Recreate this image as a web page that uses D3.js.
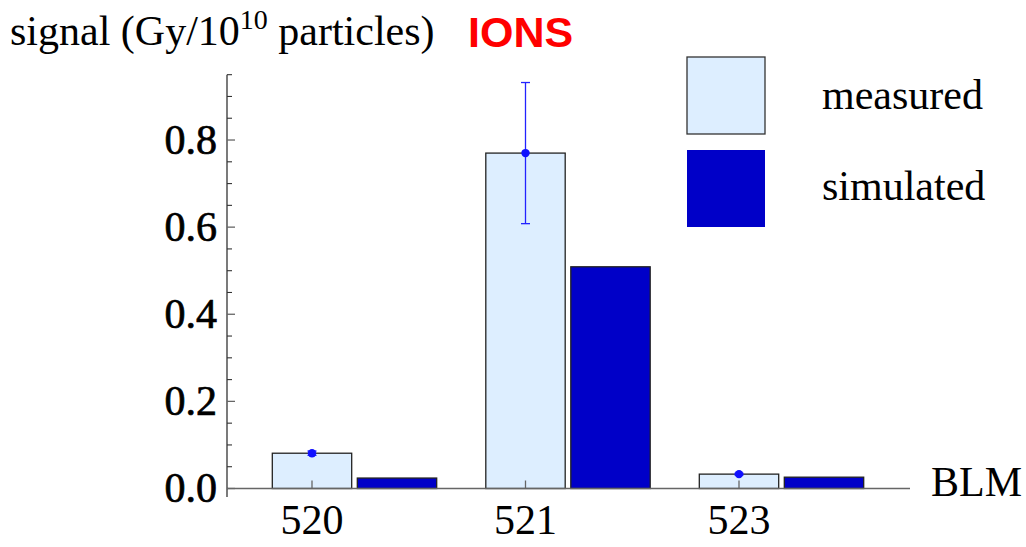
<!DOCTYPE html>
<html>
<head>
<meta charset="utf-8">
<script src="https://cdn.jsdelivr.net/npm/d3@7"></script>
<style>
  html, body { margin: 0; padding: 0; background: #fff; }
  svg { display: block; }
</style>
</head>
<body>
<svg id="chart" width="1026" height="547"></svg>
<script>
// BLM detector labels and signals (Gy per 1e10 particles)
const categories = ["520", "521", "523"];
const seriesNames = ["measured", "simulated"];
const measured = [0.081, 0.770, 0.033];
const measuredError = [0.005, 0.162, 0.002];
const simulated = [0.024, 0.509, 0.026];
const yMajorTicks = [0.0, 0.2, 0.4, 0.6, 0.8];
const yMinorTicks = [0.05, 0.1, 0.15, 0.25, 0.3, 0.35, 0.45, 0.5, 0.55, 0.65, 0.7, 0.75, 0.85, 0.9, 0.95];

const colors = { measured: "#ddeeff", simulated: "#0000c8" };

const svg = d3.select("#chart");
const serif = "'Liberation Serif', 'Times New Roman', serif";
const fs = 42;

const axisX = 227;
const zeroY = 488.5;
const y = d3.scaleLinear().domain([0, 0.95]).range([zeroY, zeroY - 0.95 * 435.6]);

const x = d3.scaleBand().domain(categories)
  .range([247.75, 888.25]).paddingInner(0.23).paddingOuter(0.115);
const xs = d3.scaleBand().domain(seriesNames)
  .range([0, x.bandwidth()]).paddingInner(0.066);

const rows = categories.map((c, i) => ({
  cat: c, measured: measured[i], err: measuredError[i], simulated: simulated[i]
}));

// Bars
const g = svg.append("g");
rows.forEach(r => {
  seriesNames.forEach(s => {
    g.append("rect")
      .attr("x", x(r.cat) + xs(s))
      .attr("y", y(r[s]))
      .attr("width", xs.bandwidth())
      .attr("height", zeroY - y(r[s]))
      .attr("fill", colors[s])
      .attr("stroke", "#222")
      .attr("stroke-width", 1.3);
  });
});

// Horizontal axis line
svg.append("line")
  .attr("x1", axisX).attr("x2", 910)
  .attr("y1", zeroY).attr("y2", zeroY)
  .attr("stroke", "#666").attr("stroke-width", 1.3);

// Category ticks at measured bar centers
rows.forEach(r => {
  const cx = x(r.cat) + xs("measured") + xs.bandwidth() / 2;
  svg.append("line")
    .attr("x1", cx).attr("x2", cx)
    .attr("y1", zeroY).attr("y2", zeroY - 8)
    .attr("stroke", "#666").attr("stroke-width", 1.3);
  svg.append("text")
    .attr("x", cx).attr("y", 534)
    .attr("text-anchor", "middle")
    .attr("font-family", serif).attr("font-size", fs)
    .text(r.cat);
});

// Error bars on measured values
rows.forEach(r => {
  const cx = x(r.cat) + xs("measured") + xs.bandwidth() / 2;
  const eb = svg.append("g").attr("stroke", "#2222ff").attr("stroke-width", 1.3);
  eb.append("line").attr("x1", cx).attr("x2", cx)
    .attr("y1", y(r.measured + r.err)).attr("y2", y(r.measured - r.err));
  [r.measured + r.err, r.measured - r.err].forEach(v => {
    eb.append("line").attr("x1", cx - 4.5).attr("x2", cx + 4.5)
      .attr("y1", y(v)).attr("y2", y(v));
  });
  svg.append("circle").attr("cx", cx).attr("cy", y(r.measured))
    .attr("r", 4.2).attr("fill", "#1010ff");
});

// Vertical axis
svg.append("line")
  .attr("x1", axisX).attr("x2", axisX)
  .attr("y1", y(0.95)).attr("y2", 497)
  .attr("stroke", "#333").attr("stroke-width", 1.3);

yMinorTicks.forEach(v => {
  svg.append("line")
    .attr("x1", axisX).attr("x2", axisX + 5)
    .attr("y1", y(v)).attr("y2", y(v))
    .attr("stroke", "#333").attr("stroke-width", 1.1);
});
yMajorTicks.forEach(v => {
  svg.append("line")
    .attr("x1", axisX).attr("x2", axisX + 8)
    .attr("y1", y(v)).attr("y2", y(v))
    .attr("stroke", "#666").attr("stroke-width", 1.3);
  svg.append("text")
    .attr("x", 217).attr("y", y(v) + 13.5)
    .attr("text-anchor", "end")
    .attr("font-family", serif).attr("font-size", fs)
    .attr("stroke", "#000").attr("stroke-width", 0.7)
    .text(d3.format(".1f")(v));
});

// Axis titles
const title = svg.append("text")
  .attr("x", 10).attr("y", 45)
  .attr("font-family", serif).attr("font-size", fs);
title.append("tspan").text("signal (Gy/10");
title.append("tspan").attr("font-size", 28).attr("dy", -16).text("10");
title.append("tspan").attr("dy", 16).text(" particles)");

svg.append("text")
  .attr("x", 468).attr("y", 47)
  .attr("font-family", "'Liberation Sans', Arial, sans-serif")
  .attr("font-weight", "bold").attr("font-size", 43)
  .attr("fill", "#ff0000")
  .text("IONS");

svg.append("text")
  .attr("x", 931).attr("y", 496)
  .attr("font-family", serif).attr("font-size", fs)
  .text("BLM");

// Legend
const legend = svg.append("g");
seriesNames.forEach((s, i) => {
  const top = 57 + i * 93;
  legend.append("rect")
    .attr("x", 687).attr("y", top)
    .attr("width", 78).attr("height", 77)
    .attr("fill", colors[s])
    .attr("stroke", s === "measured" ? "#333" : "none")
    .attr("stroke-width", 1.3);
  legend.append("text")
    .attr("x", 822).attr("y", i === 0 ? 109 : 200)
    .attr("font-family", serif).attr("font-size", fs)
    .text(s);
});
</script>
</body>
</html>
